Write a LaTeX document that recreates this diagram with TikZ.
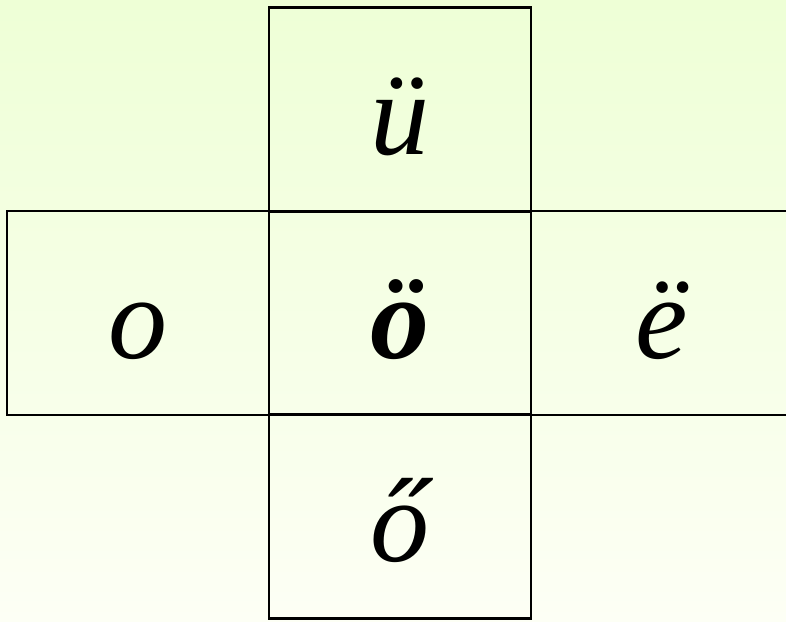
\documentclass[tikz,border=0pt]{standalone}
\usepackage{fontspec}
\setmainfont{Liberation Serif}
\definecolor{bgtop}{RGB}{238,255,214}
\definecolor{bgbot}{RGB}{253,255,245}
\begin{document}
\begin{tikzpicture}[x=1pt,y=-1pt,
  cell/.style={draw=black, line width=2.2pt, minimum width=262pt, minimum height=204pt, inner sep=0pt},
  letter/.style={anchor=base, inner sep=0pt, font=\fontsize{118}{118}\selectfont\itshape}]
\useasboundingbox (0,0) rectangle (786,621);
\clip (0,0) rectangle (786,621);
\shade[top color=bgtop, bottom color=bgbot] (0,0) rectangle (786,621);
\node[cell] (top) at (400,109.5) {};
\node[cell] (mid) at (400,313) {};
\node[cell] (bot) at (400,516.5) {};
\node[cell] (left) at (138,313) {};
\node[cell] (right) at (662,313) {};
\node[letter] (ltop) at ([yshift=-45pt]top.center) {ü};
\node[letter] (lleft) at ([yshift=-45pt]left.center) {o};
\node[letter, font=\fontsize{118}{118}\selectfont\itshape\bfseries] (lmid) at ([yshift=-45pt]mid.center) {ö};
\node[letter] (lright) at ([yshift=-45pt]right.center) {ë};
\node[letter] (lbot) at ([yshift=-45pt]bot.center) {ő};
\end{tikzpicture}
\end{document}
